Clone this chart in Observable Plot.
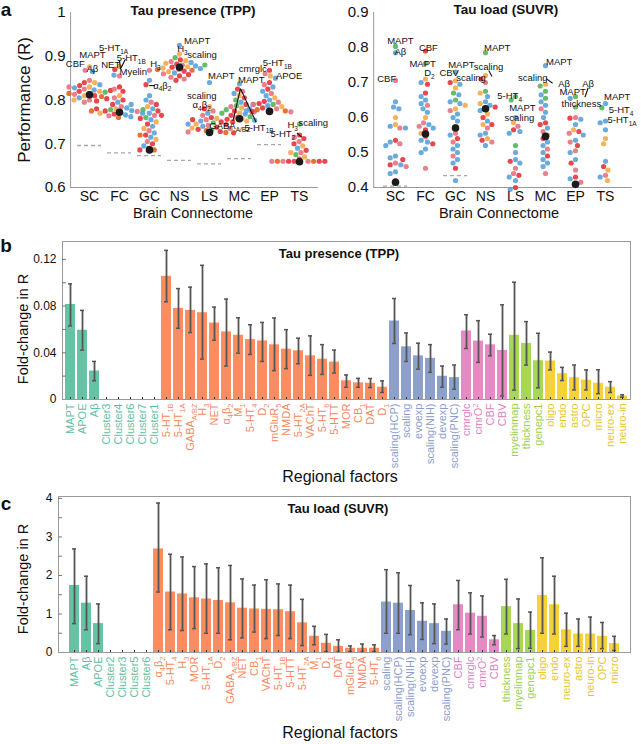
<!DOCTYPE html>
<html><head><meta charset="utf-8">
<script src="https://cdn.jsdelivr.net/npm/d3@7"></script>
<script src="https://cdn.jsdelivr.net/npm/@observablehq/plot@0.6"></script>
<style>
body{margin:0;background:#fff}
#root{position:relative;width:641px;height:744px;overflow:hidden;font-family:"Liberation Sans",Arial,sans-serif;color:#111}
.abs{position:absolute;white-space:nowrap;line-height:1}
</style></head><body><div id="root"></div>
<script>
const FONT = '"Liberation Sans", Arial, sans-serif';
// ---------- panel a data ----------
const cats = ["SC","FC","GC","NS","LS","MC","EP","TS"];
const dotPalette = {r:"#e2343c", p:"#e8727f", b:"#5aa2da", o:"#f5a94a", g:"#56b45b", d:"#e0651f"};

const tppSC = [[0.876,"o"],[0.868,"p"],[0.865,"b"],[0.845,"p"],[0.84,"r"],[0.84,"o"],[0.835,"b"],[0.833,"r"],[0.83,"o"],[0.828,"b"],[0.825,"p"],[0.823,"b"],[0.82,"o"],[0.82,"r"],[0.818,"g"],[0.815,"b"],[0.813,"p"],[0.81,"o"],[0.81,"r"],[0.808,"d"],[0.805,"b"],[0.803,"r"],[0.80,"p"],[0.80,"o"],[0.798,"r"],[0.795,"p"],[0.815,"d"],[0.822,"r"],[0.83,"p"]];
const tppFC = [[0.877,"o"],[0.87,"r"],[0.855,"p"],[0.857,"b"],[0.83,"r"],[0.825,"p"],[0.82,"r"],[0.81,"o"],[0.805,"p"],[0.80,"r"],[0.795,"b"],[0.79,"r"],[0.785,"p"],[0.782,"b"],[0.78,"o"],[0.778,"g"],[0.776,"b"],[0.775,"r"],[0.774,"p"],[0.772,"b"],[0.77,"o"],[0.77,"b"],[0.768,"r"],[0.766,"b"],[0.764,"p"],[0.762,"b"],[0.76,"d"],[0.78,"r"],[0.79,"b"],[0.775,"d"]];
const tppGC = [[0.868,"p"],[0.845,"b"],[0.835,"r"],[0.81,"b"],[0.80,"b"],[0.795,"p"],[0.79,"r"],[0.785,"o"],[0.78,"b"],[0.778,"g"],[0.775,"r"],[0.77,"b"],[0.765,"p"],[0.76,"g"],[0.758,"r"],[0.755,"b"],[0.75,"o"],[0.745,"r"],[0.74,"b"],[0.735,"o"],[0.73,"p"],[0.725,"b"],[0.72,"r"],[0.715,"b"],[0.71,"o"],[0.705,"p"],[0.70,"r"],[0.695,"b"],[0.69,"p"],[0.686,"d"],[0.686,"r"],[0.72,"d"],[0.765,"r"]];
const tppNS = [[0.925,"b"],[0.905,"o"],[0.897,"g"],[0.892,"r"],[0.89,"o"],[0.888,"p"],[0.886,"b"],[0.884,"o"],[0.882,"r"],[0.88,"p"],[0.878,"b"],[0.876,"o"],[0.875,"r"],[0.873,"o"],[0.872,"b"],[0.87,"p"],[0.868,"d"],[0.866,"r"],[0.865,"o"],[0.862,"b"],[0.86,"p"],[0.858,"r"],[0.855,"r"],[0.852,"p"],[0.848,"p"],[0.845,"r"],[0.87,"d"],[0.88,"g"]];
const tppLS = [[0.84,"b"],[0.785,"o"],[0.78,"r"],[0.775,"p"],[0.77,"b"],[0.765,"p"],[0.76,"r"],[0.758,"o"],[0.755,"p"],[0.752,"b"],[0.75,"r"],[0.748,"g"],[0.745,"o"],[0.744,"r"],[0.742,"p"],[0.74,"b"],[0.738,"r"],[0.736,"o"],[0.735,"p"],[0.733,"r"],[0.732,"g"],[0.73,"d"],[0.728,"r"],[0.727,"p"],[0.726,"d"],[0.725,"r"],[0.745,"b"],[0.755,"r"]];
const tppMC = [[0.837,"b"],[0.825,"r"],[0.82,"p"],[0.815,"b"],[0.81,"o"],[0.805,"r"],[0.80,"g"],[0.795,"b"],[0.79,"r"],[0.787,"g"],[0.785,"p"],[0.782,"o"],[0.78,"b"],[0.778,"g"],[0.775,"r"],[0.773,"p"],[0.77,"o"],[0.768,"b"],[0.765,"r"],[0.762,"g"],[0.76,"p"],[0.758,"o"],[0.756,"r"],[0.754,"b"],[0.752,"o"],[0.75,"r"],[0.79,"b"],[0.77,"g"]];
const tppEP = [[0.868,"r"],[0.86,"p"],[0.855,"o"],[0.85,"b"],[0.84,"r"],[0.835,"p"],[0.83,"b"],[0.825,"r"],[0.82,"b"],[0.815,"p"],[0.81,"b"],[0.805,"o"],[0.80,"b"],[0.797,"r"],[0.795,"p"],[0.792,"r"],[0.79,"g"],[0.787,"b"],[0.785,"o"],[0.782,"r"],[0.78,"p"],[0.778,"d"],[0.776,"r"],[0.775,"d"],[0.774,"r"],[0.773,"p"],[0.775,"b"],[0.79,"p"]];
const tppTS = [[0.745,"g"],[0.72,"r"],[0.715,"p"],[0.712,"r"],[0.705,"p"],[0.70,"r"],[0.695,"o"],[0.69,"b"],[0.685,"r"],[0.68,"p"],[0.675,"g"],[0.67,"o"],[0.665,"r"],[0.66,"r"],[0.66,"p"],[0.66,"r"],[0.66,"d"],[0.66,"p"],[0.66,"r"],[0.66,"d"],[0.66,"r"],[0.66,"p"],[0.68,"o"]];
const tppMedian = [0.812,0.772,0.686,0.875,0.726,0.757,0.774,0.659];
const tppNull = [0.696,0.679,0.673,0.662,0.654,0.666,0.698,null];
const tppAnn = [
 ["SC","CBF",-14.5,0.883],["SC","MAPT",3,0.902],["SC","Aβ",3,0.871],
 ["FC","5-HT_{1A}",-6,0.919],["FC","5-HT_{1B}",12,0.896],["FC","NET",-9,0.879],["FC","Myelin",14,0.864],
 ["GC","H_{3}",6,0.883],["GC","α_{4}β_{2}",13,0.833],
 ["NS","MAPT",18,0.934],["NS","H_{3}",3,0.917],["NS","scaling",23,0.903],
 ["LS","MAPT",12,0.854],["LS","scaling",-8,0.809],["LS","α_{4}β_{2}",-8,0.788],
 ["MC","MAPT",12,0.845],["MC","GABA_{A/BZ}",-10,0.74],["MC","5-HT_{1B}",20,0.737],
 ["EP","cmrglc",-17,0.871],["EP","5-HT_{1B}",8,0.885],["EP","APOE",20,0.854],
 ["TS","H_{3}",-7,0.743],["TS","scaling",14,0.747],["TS","5-HT_{2}",-17,0.723]
];
const tppLinks = [["MC",1,0.826,-6.7,0.752],["MC",1,0.826,17,0.749],["FC",0,0.89,1,0.871],["FC",6,0.893,1,0.871],["GC",-0.3,0.833,5.7,0.833],["TS",-2.7,0.725,2.3,0.715]];

const suvrSC = [[0.803,"g"],[0.785,"b"],[0.706,"p"],[0.645,"b"],[0.63,"b"],[0.625,"b"],[0.60,"o"],[0.58,"o"],[0.575,"b"],[0.57,"p"],[0.57,"b"],[0.535,"r"],[0.53,"b"],[0.525,"p"],[0.52,"b"],[0.49,"b"],[0.485,"b"],[0.47,"p"],[0.465,"r"],[0.465,"b"],[0.445,"b"],[0.44,"b"],[0.42,"r"],[0.46,"p"],[0.48,"r"]];
const suvrFC = [[0.79,"r"],[0.755,"g"],[0.71,"o"],[0.70,"b"],[0.695,"r"],[0.67,"r"],[0.66,"b"],[0.65,"b"],[0.64,"b"],[0.635,"p"],[0.625,"b"],[0.615,"b"],[0.60,"o"],[0.585,"p"],[0.58,"b"],[0.575,"p"],[0.57,"b"],[0.565,"r"],[0.555,"o"],[0.545,"p"],[0.535,"b"],[0.53,"b"],[0.525,"r"],[0.51,"b"],[0.50,"b"],[0.455,"p"]];
const suvrGC = [[0.73,"b"],[0.705,"o"],[0.70,"r"],[0.695,"b"],[0.685,"o"],[0.67,"g"],[0.665,"b"],[0.65,"g"],[0.645,"b"],[0.64,"b"],[0.635,"o"],[0.625,"o"],[0.62,"p"],[0.61,"b"],[0.60,"b"],[0.59,"b"],[0.575,"o"],[0.555,"p"],[0.55,"b"],[0.54,"r"],[0.53,"p"],[0.52,"b"],[0.51,"b"],[0.50,"b"],[0.49,"p"],[0.48,"b"],[0.47,"b"],[0.455,"r"],[0.42,"b"]];
const suvrNS = [[0.785,"g"],[0.72,"o"],[0.71,"r"],[0.70,"p"],[0.675,"g"],[0.67,"o"],[0.66,"b"],[0.645,"b"],[0.64,"o"],[0.635,"b"],[0.63,"r"],[0.625,"d"],[0.62,"b"],[0.61,"o"],[0.60,"r"],[0.59,"b"],[0.58,"o"],[0.57,"p"],[0.555,"b"],[0.55,"b"],[0.54,"o"],[0.535,"r"],[0.53,"p"],[0.52,"b"],[0.58,"r"]];
const suvrLS = [[0.66,"g"],[0.65,"g"],[0.60,"b"],[0.585,"o"],[0.575,"p"],[0.565,"r"],[0.56,"b"],[0.555,"b"],[0.52,"g"],[0.50,"b"],[0.48,"b"],[0.475,"r"],[0.47,"b"],[0.455,"p"],[0.44,"p"],[0.435,"r"],[0.43,"b"],[0.42,"b"],[0.40,"r"],[0.395,"b"]];
const suvrMC = [[0.748,"b"],[0.695,"o"],[0.69,"g"],[0.675,"g"],[0.665,"b"],[0.655,"g"],[0.645,"b"],[0.635,"b"],[0.625,"p"],[0.615,"b"],[0.60,"b"],[0.585,"r"],[0.58,"r"],[0.57,"b"],[0.56,"p"],[0.55,"o"],[0.54,"r"],[0.53,"b"],[0.52,"b"],[0.51,"p"],[0.50,"b"],[0.49,"r"],[0.48,"b"],[0.47,"b"],[0.46,"b"],[0.44,"p"]];
const suvrEP = [[0.66,"g"],[0.655,"b"],[0.63,"g"],[0.60,"p"],[0.598,"r"],[0.595,"b"],[0.58,"b"],[0.565,"o"],[0.56,"r"],[0.555,"p"],[0.55,"b"],[0.535,"b"],[0.53,"p"],[0.52,"r"],[0.505,"p"],[0.50,"b"],[0.48,"b"],[0.47,"r"],[0.45,"p"],[0.43,"r"],[0.425,"b"],[0.41,"d"],[0.415,"p"]];
const suvrTS = [[0.64,"b"],[0.628,"g"],[0.59,"b"],[0.585,"b"],[0.565,"b"],[0.54,"o"],[0.525,"o"],[0.475,"b"],[0.46,"r"],[0.45,"o"],[0.435,"p"],[0.43,"b"],[0.42,"o"]];
const suvrMedian = [0.415,0.553,0.57,0.625,null,0.546,0.409,null];
const suvrNull = [0.404,null,0.434,null,null,null,null,null];
const suvrAnn = [
 ["SC","MAPT",5,0.818],["SC","Aβ",5,0.787],["SC","CBF",-9,0.709],
 ["FC","CBF",3,0.799],["FC","MAPT",-3,0.753],["FC","D_{2}",4,0.727],
 ["GC","CBV",-6.5,0.727],["GC","MAPT",6,0.751],["GC","scaling",16,0.713],
 ["NS","MAPT",12,0.799],["NS","scaling",3,0.744],
 ["LS","5-HT_{4}",-6,0.661],["LS","MAPT",7,0.628],["LS","scaling",4,0.599],
 ["MC","MAPT",14,0.76],["MC","scaling",-13,0.713],["MC","Aβ",19,0.696],
 ["EP","MAPT",-3,0.674],["EP","Aβ",13,0.696],["EP","thickness",6,0.639],
 ["TS","MAPT",12,0.66],["TS","5-HT_{4}",16,0.622],["TS","5-HT_{1A}",17,0.593]
];
const suvrLinks = [["NS",3.3,0.734,6.7,0.717],["MC",0.7,0.711,7.3,0.698],["EP",13,0.685,9.7,0.658]];

// ---------- panel b/c data ----------
const groupColor = {gen:"#66c2a5", clu:"#66c2a5", rec:"#fc8d62", sca:"#8da0cb", met:"#e78ac3", str:"#a6d854", cel:"#f5d13a"};
const groupText  = {gen:"#5fbf9f", clu:"#5fbf9f", rec:"#f58a60", sca:"#8b9ccb", met:"#e07fc0", str:"#9ccf4e", cel:"#e8c62a"};

const tppNames = ["MAPT","APOE","Aβ","Cluster3","Cluster4","Cluster6","Cluster7","Cluster1","5-HT_{1B}","5-HT_{1A}","GABA_{A/BZ}","H_{3}","NET","α_{4}β_{2}","M_{1}","5-HT_{4}","D_{2}","mGluR_{5}","NMDA","5-HT_{2A}","VAChT","5-HT_{6}","5-HTT","MOR","CB_{1}","DAT","D_{1}","scaling(HCP)","scaling","evoexp","scaling(NIH)","devexp","scaling(PNC)","cmrglc","cmrO^{2}","CBF","CBV","myelinmap","thickness","genepc1","oligo","endo","astro","OPC","micro","neuro-ex","neuro-in"];
const tppGroups = ["gen","gen","gen","clu","clu","clu","clu","clu","rec","rec","rec","rec","rec","rec","rec","rec","rec","rec","rec","rec","rec","rec","rec","rec","rec","rec","rec","sca","sca","sca","sca","sca","sca","met","met","met","met","str","str","str","cel","cel","cel","cel","cel","cel","cel"];
const tppValue = [0.0814,0.0593,0.0244,0,0,0,0,0,0.1055,0.078,0.0763,0.0743,0.0655,0.0579,0.055,0.0513,0.0502,0.0468,0.0431,0.0417,0.0374,0.0345,0.032,0.016,0.0142,0.0139,0.0105,0.0672,0.0451,0.0374,0.0352,0.0199,0.0187,0.0587,0.05,0.0468,0.042,0.055,0.048,0.0332,0.0329,0.0221,0.0187,0.0165,0.0139,0.0105,0.003];
const tppLow = [0.063,0.0423,0.016,null,null,null,null,null,0.0837,0.061,0.0573,0.0346,0.0508,0.0287,0.0397,0.0386,0.0326,0.0247,0.0264,0.0306,0.0207,0.0215,0.0227,0.0105,0.0105,0.0102,0.006,0.048,0.0326,0.026,0.0233,0.0105,0.0088,0.0437,0.0318,0.0374,0.003,0.008,0.0295,0.01,0.0253,0.0162,0.0082,0.0082,0.005,0.006,0.002];
const tppHigh = [0.099,0.0763,0.0326,null,null,null,null,null,0.1277,0.095,0.0962,0.1149,0.0791,0.086,0.07,0.064,0.066,0.0698,0.0598,0.0525,0.0545,0.047,0.0423,0.021,0.0181,0.018,0.016,0.0865,0.057,0.0482,0.047,0.0286,0.0295,0.0726,0.0675,0.0559,0.0811,0.1004,0.0667,0.0567,0.0406,0.0275,0.0295,0.0253,0.0255,0.0153,0.004];

const suvrNames = ["MAPT","Aβ","APOE","Cluster2","Cluster3","Cluster5","Cluster6","α_{4}β_{2}","5-HT_{4}","H_{3}","MOR","5-HT_{1A}","D_{2}","GABA_{A/BZ}","NET","CB_{1}","VAChT","5-HT_{1B}","5-HTT","5-HT_{2A}","M_{1}","D_{1}","DAT","mGluR_{5}","NMDA","5-HT_{6}","scaling","scaling(HCP)","scaling(NIH)","evoexp","devexp","scaling(PNC)","CBF","cmrglc","cmrO^{2}","CBV","thickness","myelinmap","genepc1","oligo","endo","neuro-ex","astro","neuro-in","OPC","micro"];
const suvrGroups = ["gen","gen","gen","clu","clu","clu","clu","rec","rec","rec","rec","rec","rec","rec","rec","rec","rec","rec","rec","rec","rec","rec","rec","rec","rec","rec","sca","sca","sca","sca","sca","sca","met","met","met","met","str","str","str","cel","cel","cel","cel","cel","cel","cel"];
const suvrValue = [1.74,1.28,0.75,0,0,0,0,2.69,1.57,1.52,1.42,1.39,1.35,1.29,1.15,1.13,1.12,1.11,1.06,0.77,0.42,0.24,0.16,0.11,0.11,0.11,1.31,1.28,1.09,0.81,0.75,0.55,1.24,1.02,0.94,0.33,1.19,0.75,0.57,1.48,1.24,0.59,0.48,0.48,0.42,0.23];
const suvrLow = [0.75,0.59,0.23,null,null,null,null,1.57,0.59,0.57,0.62,0.5,0.5,0.33,0.38,0.53,0.36,0.44,0.36,0.18,0.2,0.02,0.01,0.02,0.01,0.02,0.5,0.5,0.46,0.34,0.23,0.22,0.59,0.48,0.4,0.2,0.48,0.1,0.11,0.5,0.48,0.16,0.16,0.1,0.1,0.05];
const suvrHigh = [2.69,1.98,1.26,null,null,null,null,3.88,2.55,2.48,2.23,2.3,2.2,2.26,1.91,1.75,1.89,1.78,1.75,1.38,0.68,0.47,0.33,0.17,0.22,0.2,2.15,2.07,1.74,1.29,1.26,0.87,1.87,1.55,1.47,0.44,1.9,1.39,1.05,2.46,1.98,1.02,0.87,0.92,0.78,0.42];

// ---------- helpers ----------
const root = document.getElementById("root");
function place(node, x, y) {
  const d = document.createElement("div"); d.className = "abs";
  d.style.left = x + "px"; d.style.top = y + "px"; d.appendChild(node); root.appendChild(d);
}
function label(text, x, y, {size = 14, bold = false, rotate = 0} = {}) {
  const d = document.createElement("div"); d.className = "abs"; d.textContent = text;
  d.style.left = x + "px"; d.style.top = y + "px"; d.style.fontSize = size + "px";
  d.style.fontWeight = bold ? "bold" : "normal";
  d.style.transform = `translate(-50%,-50%) rotate(${rotate}deg)`;
  root.appendChild(d);
}
function richify(svg) {
  const NS = "http://www.w3.org/2000/svg";
  svg.querySelectorAll("text").forEach(t => {
    const s = t.textContent;
    if (!/[_^]\{/.test(s)) return;
    const fs = parseFloat(getComputedStyle(t).fontSize) || 11;
    t.textContent = "";
    let off = 0, last = 0, m;
    const re = /([_^])\{([^}]*)\}/g;
    const push = (str, shift, small) => {
      if (!str) return;
      const sp = document.createElementNS(NS, "tspan");
      const d = shift - off;
      if (d) sp.setAttribute("dy", d.toFixed(2));
      off = shift;
      if (small) sp.setAttribute("font-size", (fs * 0.68).toFixed(1));
      sp.textContent = str; t.appendChild(sp);
    };
    while ((m = re.exec(s))) {
      push(s.slice(last, m.index), 0, false);
      push(m[2], m[1] === "_" ? fs * 0.3 : -fs * 0.4, true);
      last = re.lastIndex;
    }
    push(s.slice(last), 0, false);
  });
}

function scatter({lists, med, nul, ann, links, domain, ticks, fmt, width, ml, mr, axisOff, lineEnd, tickPad}) {
  const step = (width - ml - mr) / cats.length, half = step / 2;
  const rows = lists.flatMap((pts, i) => pts.map(([v, k]) => ({cat: cats[i], v, c: dotPalette[k]})));
  const meds = med.map((v, i) => ({cat: cats[i], v})).filter(d => d.v != null);
  const nuls = nul.map((v, i) => ({cat: cats[i], v})).filter(d => d.v != null);
  const annRows = ann.map(([cat, t, x, v]) => ({cat, t, x, v}));
  const linkRows = links.map(([cat, x1, v1, x2, v2]) => ({cat, x1, v1, x2, v2}));
  const axisRows = [{cat: cats[0], x: -half + axisOff, x2: -half + lineEnd}];
  return Plot.plot({
    width, height: 222, marginLeft: ml, marginRight: mr, marginTop: 12, marginBottom: 35,
    style: {fontFamily: FONT, background: "transparent", overflow: "visible", color: "#111"},
    fx: {domain: cats, padding: 0, label: null},
    x: {domain: [-half, half], axis: null},
    y: {domain, label: null},
    color: {type: "identity"},
    marks: [
      Plot.ruleX(axisRows, {fx: "cat", x: "x", y1: domain[0], y2: domain[1], stroke: "#999"}),
      Plot.ruleY(axisRows, {fx: "cat", y: domain[0], x1: "x", x2: "x2", stroke: "#999"}),
      Plot.ruleY(nuls, {fx: "cat", y: "v", stroke: "#a8a8a8", strokeWidth: 1.3, strokeDasharray: "4,3", insetLeft: 3, insetRight: 3}),
      Plot.dot(rows, Plot.dodgeX({anchor: "middle", padding: 0.4}, {fx: "cat", y: "v", r: 2.6, fill: "c", fillOpacity: 0.9})),
      Plot.dot(meds, {fx: "cat", y: "v", r: 3.8, fill: "#1b1b1b"}),
      Plot.link(linkRows, {fx: "cat", x1: "x1", y1: "v1", x2: "x2", y2: "v2", stroke: "#111", strokeWidth: 1.1}),
      Plot.text(annRows, {fx: "cat", x: "x", y: "v", text: "t", fontSize: 9.5, fill: "#111"}),
      Plot.axisY({ticks, tickFormat: fmt, tickSize: 0, tickPadding: tickPad, fontSize: 15, fill: "#111", label: null}),
      Plot.axisFx({anchor: "bottom", tickSize: 0, tickPadding: 4, fontSize: 14, fill: "#111", label: null})
    ]
  });
}

function bars({names, groups, vals, lo, hi, domain, ticks, minor, fmt, width, height, mt, mb, ml, mr}) {
  const rows = names.map((n, i) => ({n, v: vals[i], lo: lo[i], hi: hi[i], col: groupColor[groups[i]], tcol: groupText[groups[i]]}));
  const err = rows.filter(d => d.lo != null);
  return Plot.plot({
    width, height, marginTop: mt, marginBottom: mb, marginLeft: ml, marginRight: mr,
    style: {fontFamily: FONT, background: "transparent", overflow: "visible", color: "#111"},
    x: {domain: names, paddingInner: 0.16, paddingOuter: 0.08, axis: null},
    y: {domain, label: null},
    color: {type: "identity"},
    marks: [
      Plot.barY(rows, {x: "n", y: "v", fill: "col"}),
      Plot.ruleX(err, {x: "n", y1: "lo", y2: "hi", stroke: "#555", strokeWidth: 1.8}),
      Plot.tickY(err, {x: "n", y: "hi", stroke: "#555", strokeWidth: 1.5, insetLeft: 3, insetRight: 3}),
      Plot.tickY(err, {x: "n", y: "lo", stroke: "#555", strokeWidth: 1.5, insetLeft: 3, insetRight: 3}),
      Plot.frame({stroke: "#999"}),
      Plot.axisY({ticks: minor, tickSize: 4, dx: 4, fill: "none", stroke: "#777", label: null}),
      Plot.axisY({ticks, tickFormat: fmt, tickSize: 0, tickPadding: 6, fontSize: 12, fill: "#111", label: null}),
      Plot.axisX({tickSize: 2, dy: -2, fill: "none", stroke: "#333", label: null}),
      Plot.text(rows, {x: "n", y: domain[0], text: "n", rotate: -90, textAnchor: "end", dy: 4, fontSize: 11, fill: "tcol"})
    ]
  });
}

// ---------- build ----------
const pa1 = scatter({lists: [tppSC,tppFC,tppGC,tppNS,tppLS,tppMC,tppEP,tppTS], med: tppMedian, nul: tppNull, ann: tppAnn, links: tppLinks,
  domain: [0.6, 1], ticks: [0.6,0.7,0.8,0.9,1], fmt: d => d === 1 ? "1" : d.toFixed(1),
  width: 320, ml: 71, mr: 4, axisOff: -4, lineEnd: 249, tickPad: 9});
const pa2 = scatter({lists: [suvrSC,suvrFC,suvrGC,suvrNS,suvrLS,suvrMC,suvrEP,suvrTS], med: suvrMedian, nul: suvrNull, ann: suvrAnn, links: suvrLinks,
  domain: [0.4, 0.9], ticks: [0.4,0.5,0.6,0.7,0.8,0.9], fmt: d => d.toFixed(1),
  width: 321, ml: 57, mr: 18, axisOff: -7, lineEnd: 258, tickPad: 12});
const pb = bars({names: tppNames, groups: tppGroups, vals: tppValue, lo: tppLow, hi: tppHigh,
  domain: [0, 0.1353], ticks: [0, 0.04, 0.08, 0.12], minor: [0.02, 0.04, 0.06, 0.08, 0.10, 0.12], fmt: d => d === 0 ? "0" : d.toFixed(2),
  width: 641, height: 240, mt: 5, mb: 77, ml: 62, mr: 11});
const pc = bars({names: suvrNames, groups: suvrGroups, vals: suvrValue, lo: suvrLow, hi: suvrHigh,
  domain: [0, 4.05], ticks: [0, 1, 2, 3, 4], minor: [0.5, 1, 1.5, 2, 2.5, 3, 3.5, 4], fmt: d => String(d),
  width: 641, height: 250, mt: 6, mb: 88, ml: 58, mr: 11});

place(pa1, 0, 0);
place(pa2, 320, 0);
place(pb, 0, 236);
place(pc, 0, 490);
[pa1, pa2, pb, pc].forEach(richify);

label("a", 6, 9, {size: 19, bold: true});
label("Tau presence (TPP)", 193, 11, {size: 13.5, bold: true});
label("Tau load (SUVR)", 506, 10, {size: 13.5, bold: true});
label("Performance (R)", 24, 100, {size: 17, rotate: -90});
label("Brain Connectome", 193, 213, {size: 14.5});
label("Brain Connectome", 499, 213, {size: 14.5});
label("b", 6, 245, {size: 19, bold: true});
label("Tau presence (TPP)", 339, 253, {size: 13, bold: true});
label("Regional factors", 340, 477, {size: 16});
label("Fold-change in R", 23, 329, {size: 14.5, rotate: -90});
label("c", 6, 503, {size: 19, bold: true});
label("Tau load (SUVR)", 338, 508, {size: 13, bold: true});
label("Regional factors", 340, 733, {size: 16});
label("Fold-change in R", 23, 579, {size: 14.5, rotate: -90});
</script></body></html>
